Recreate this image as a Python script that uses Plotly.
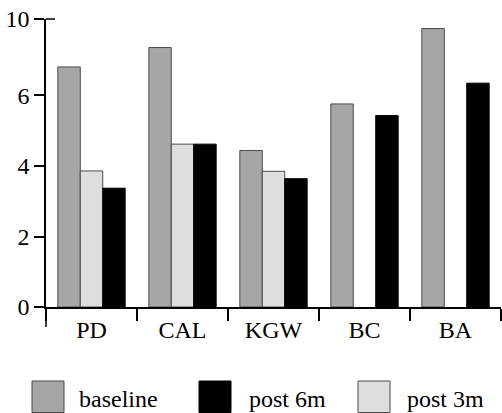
import plotly.graph_objects as go

categories = ["PD", "CAL", "KGW", "BC", "BA"]
series_names = ["baseline", "post 3m", "post 6m"]
baseline = [6.81, 7.36, 4.44, 5.76, 7.90]
post_3m = [3.86, 4.62, 3.85, None, None]
post_6m = [3.37, 4.62, 3.64, 5.43, 6.35]
y_tick_vals = [0, 2, 4, 6, 8.17]
y_tick_text = ["0", "2", "4", "6", "10"]
legend_order = ["baseline", "post 6m", "post 3m"]

colors = {"baseline": "#a6a6a6", "post 3m": "#dedede", "post 6m": "#000000"}
outlines = {"baseline": "#4a4a4a", "post 3m": "#4a4a4a", "post 6m": "#000000"}
values = {"baseline": baseline, "post 3m": post_3m, "post 6m": post_6m}

W, H = 502, 413
ML, MR, MT, MB = 46, 1, 19, 106
PW = W - ML - MR
PH = H - MT - MB

def px_x(p):
    return (p - ML) / PW

def px_y(p):
    return (H - MB - p) / PH

FONT = "'Liberation Serif', 'Times New Roman', serif"

fig = go.Figure()
for name in series_names:
    fig.add_trace(go.Bar(
        x=categories, y=values[name], name=name,
        marker=dict(color=colors[name], line=dict(color=outlines[name], width=1)),
        showlegend=False,
    ))

shapes = []
annotations = []
# y axis extension below zero and top tick crossing
shapes.append(dict(type="line", xref="paper", yref="paper", x0=0, x1=0,
                   y0=0, y1=px_y(327), line=dict(color="black", width=1.5)))
shapes.append(dict(type="line", xref="paper", yref="paper", x0=0, x1=px_x(55),
                   y0=1, y1=1, line=dict(color="black", width=1.5)))

swatch_x = {"baseline": 32, "post 6m": 199, "post 3m": 358}
text_x = {"baseline": 77, "post 6m": 247, "post 3m": 405}
for name in legend_order:
    sx = swatch_x[name]
    shapes.append(dict(type="rect", xref="paper", yref="paper",
                       x0=px_x(sx), x1=px_x(sx + 32), y0=px_y(381), y1=px_y(412.5),
                       fillcolor=colors[name], line=dict(color=outlines[name], width=1)))
    annotations.append(dict(text=name, xref="paper", yref="paper",
                            x=px_x(text_x[name]), y=px_y(399), xanchor="left", yanchor="middle",
                            showarrow=False, font=dict(family=FONT, size=24, color="black")))

fig.update_layout(
    width=W, height=H,
    margin=dict(l=ML, r=MR, t=MT, b=MB, pad=0),
    paper_bgcolor="white", plot_bgcolor="white",
    barmode="group", bargap=0.26, bargroupgap=0,
    font=dict(family=FONT, size=24, color="black"),
    shapes=shapes, annotations=annotations,
    showlegend=False,
)
fig.update_xaxes(
    type="category", range=[-0.5, 4.5], showline=True, linecolor="black", linewidth=1.5,
    ticks="outside", tickson="boundaries", ticklen=12, tickwidth=1.5, tickcolor="black",
    showgrid=False, zeroline=False, tickfont=dict(family=FONT, size=24),
)
fig.update_yaxes(
    range=[0, 8.17], tickvals=y_tick_vals, ticktext=y_tick_text,
    showline=True, linecolor="black", linewidth=1.5,
    ticks="outside", ticklen=10, tickwidth=1.5, tickcolor="black",
    showgrid=False, zeroline=False, tickfont=dict(family=FONT, size=24),
)

fig.write_html("out.html", config={"displayModeBar": False},
               post_script="document.body.style.margin='0';document.body.style.overflow='hidden';")
